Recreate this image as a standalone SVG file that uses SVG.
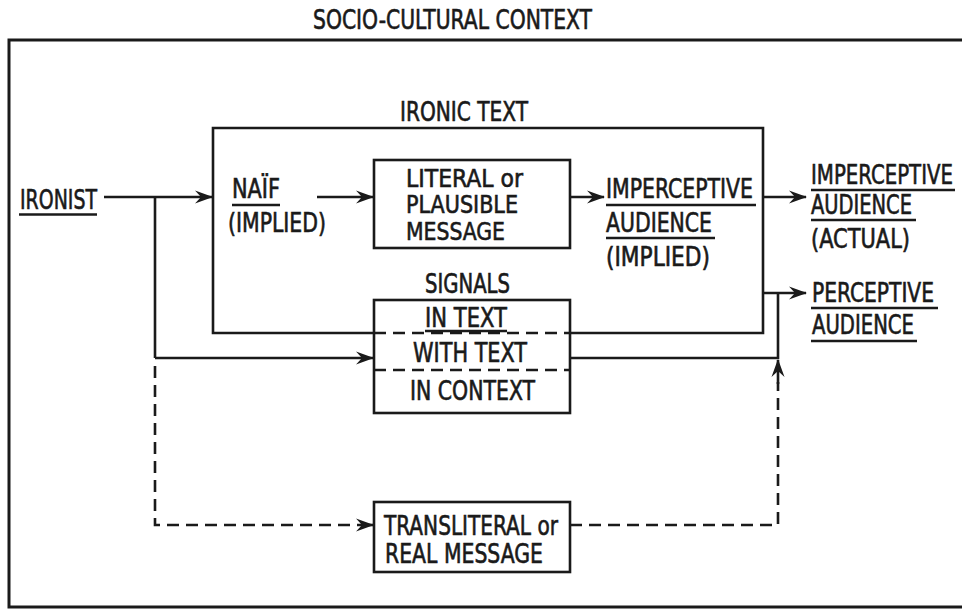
<svg xmlns="http://www.w3.org/2000/svg" width="962" height="614" viewBox="0 0 962 614">
<style>
  text { font-family: "DejaVu Sans Condensed", "DejaVu Sans", sans-serif; font-size: 26px; fill: #1a1a1a; stroke: #1a1a1a; stroke-width: 0.6; }
  .title { font-size: 26px; }
  .sm { font-size: 24.5px; }
  .box { fill: none; stroke: #1a1a1a; stroke-width: 2.6; }
  .frame { fill: none; stroke: #1a1a1a; stroke-width: 3; }
  .ln { fill: none; stroke: #1a1a1a; stroke-width: 2.6; }
  .ds { fill: none; stroke: #1a1a1a; stroke-width: 2.6; stroke-dasharray: 12 7; }
  .ul { stroke: #1a1a1a; stroke-width: 2.4; }
</style>
<defs>
  <marker id="arr" markerUnits="userSpaceOnUse" markerWidth="24" markerHeight="16" viewBox="-20 -8 22 16" refX="0" refY="0" orient="auto">
    <path d="M1,0 L-17,-6.5 L-11,0 L-17,6.5 Z" fill="#1a1a1a"/>
  </marker>
</defs>
<rect width="962" height="614" fill="#ffffff"/>

<g id="socio-cultural-context">
  <rect class="frame" x="9" y="40" width="970" height="567"/>
  <text class="title" x="313" y="29" textLength="279" lengthAdjust="spacingAndGlyphs">SOCIO-CULTURAL CONTEXT</text>
</g>

<g id="ironic-text">
  <path class="ln" d="M374,333 L213,333 L213,128 L763,128 L763,333 L570,333"/>
  <text x="400" y="121" textLength="128" lengthAdjust="spacingAndGlyphs">IRONIC TEXT</text>
</g>

<g id="ironist">
  <text x="20" y="209" textLength="77" lengthAdjust="spacingAndGlyphs">IRONIST</text>
  <line class="ul" x1="19" y1="214.5" x2="97" y2="214.5"/>
</g>

<g id="naif">
  <text x="232" y="198" textLength="48" lengthAdjust="spacingAndGlyphs">NAÏF</text>
  <line class="ul" x1="232" y1="205" x2="280" y2="205"/>
  <text x="228" y="232" textLength="98" lengthAdjust="spacingAndGlyphs">(IMPLIED)</text>
</g>

<g id="literal-message">
  <rect class="box" x="374" y="160" width="196" height="88"/>
  <text class="sm" x="406" y="187" textLength="117" lengthAdjust="spacingAndGlyphs">LITERAL or</text>
  <text class="sm" x="406" y="213" textLength="112" lengthAdjust="spacingAndGlyphs">PLAUSIBLE</text>
  <text class="sm" x="406" y="240" textLength="99" lengthAdjust="spacingAndGlyphs">MESSAGE</text>
</g>

<g id="imperceptive-implied">
  <text x="606" y="198" textLength="147" lengthAdjust="spacingAndGlyphs">IMPERCEPTIVE</text>
  <line class="ul" x1="606" y1="205" x2="756" y2="205"/>
  <text x="606" y="232" textLength="106" lengthAdjust="spacingAndGlyphs">AUDIENCE</text>
  <line class="ul" x1="606" y1="238" x2="715" y2="238"/>
  <text x="606" y="266" textLength="104" lengthAdjust="spacingAndGlyphs">(IMPLIED)</text>
</g>

<g id="imperceptive-actual">
  <text x="811" y="184" textLength="142" lengthAdjust="spacingAndGlyphs">IMPERCEPTIVE</text>
  <line class="ul" x1="811" y1="190" x2="955" y2="190"/>
  <text x="811" y="214" textLength="101" lengthAdjust="spacingAndGlyphs">AUDIENCE</text>
  <line class="ul" x1="811" y1="220" x2="916" y2="220"/>
  <text x="811" y="248" textLength="99" lengthAdjust="spacingAndGlyphs">(ACTUAL)</text>
</g>

<g id="perceptive-audience">
  <text x="812" y="302" textLength="122" lengthAdjust="spacingAndGlyphs">PERCEPTIVE</text>
  <line class="ul" x1="811" y1="308" x2="938" y2="308"/>
  <text x="812" y="334" textLength="102" lengthAdjust="spacingAndGlyphs">AUDIENCE</text>
  <line class="ul" x1="811" y1="341" x2="917" y2="341"/>
</g>

<g id="signals">
  <text x="425" y="293" textLength="85" lengthAdjust="spacingAndGlyphs">SIGNALS</text>
  <rect class="box" x="374" y="300" width="196" height="113"/>
  <line class="ds" x1="374" y1="333" x2="570" y2="333"/>
  <line class="ul" x1="425" y1="331" x2="507" y2="331"/>
  <line class="ds" x1="374" y1="370" x2="570" y2="370"/>
  <text x="425" y="327" textLength="82" lengthAdjust="spacingAndGlyphs">IN TEXT</text>
  <text x="413" y="362" textLength="114" lengthAdjust="spacingAndGlyphs">WITH TEXT</text>
  <text x="410" y="400" textLength="125" lengthAdjust="spacingAndGlyphs">IN CONTEXT</text>
</g>

<g id="transliteral-message">
  <rect class="box" x="374" y="502" width="196" height="70"/>
  <text x="384" y="535" textLength="174" lengthAdjust="spacingAndGlyphs">TRANSLITERAL or</text>
  <text x="385" y="563" textLength="158" lengthAdjust="spacingAndGlyphs">REAL MESSAGE</text>
</g>

<g id="connectors">
  <line class="ln" x1="104" y1="197" x2="212" y2="197" marker-end="url(#arr)"/>
  <line class="ln" x1="317" y1="197" x2="373" y2="197" marker-end="url(#arr)"/>
  <line class="ln" x1="570" y1="197" x2="604" y2="197" marker-end="url(#arr)"/>
  <line class="ln" x1="763" y1="197" x2="806" y2="197" marker-end="url(#arr)"/>
  <line class="ln" x1="763" y1="293" x2="806" y2="293" marker-end="url(#arr)"/>
  <line class="ln" x1="155" y1="197" x2="155" y2="358"/>
  <line class="ln" x1="155" y1="358" x2="373" y2="358" marker-end="url(#arr)"/>
  <path class="ds" d="M155,366 L155,525 L360,525"/>
  <line class="ln" x1="360" y1="525" x2="373" y2="525" marker-end="url(#arr)"/>
  <path class="ln" d="M570,358 L778,358 L778,293"/>
  <path class="ds" d="M570,525 L778,525 L778,382"/>
  <line class="ln" x1="778" y1="384" x2="778" y2="360" marker-end="url(#arr)"/>
</g>
</svg>
